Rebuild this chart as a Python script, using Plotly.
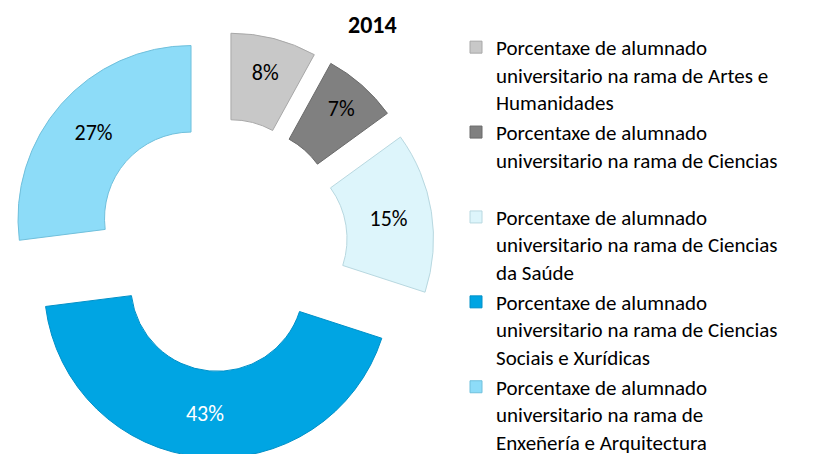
import plotly.graph_objects as go

categories = [
    "Porcentaxe de alumnado<br>universitario na rama de Artes e<br>Humanidades",
    "Porcentaxe de alumnado<br>universitario na rama de Ciencias<br>&nbsp;",
    "Porcentaxe de alumnado<br>universitario na rama de Ciencias<br>da Saúde",
    "Porcentaxe de alumnado<br>universitario na rama de Ciencias<br>Sociais e Xurídicas",
    "Porcentaxe de alumnado<br>universitario na rama de<br>Enxeñería e Arquitectura",
]
values = [8, 7, 15, 43, 27]
colors = ["#C8C8C8", "#808080", "#DDF5FB", "#00A5E3", "#8DDCF8"]
edge_colors = ["#A8A8A8", "#6A6A6A", "#B8D8E0", "#0090C8", "#70C0DC"]
text_colors = ["black", "black", "black", "white", "black"]
title_text = "<b>2014</b>"

W, H = 813, 454
FONT = "Carlito, Lato, sans-serif"
box = 426
cx = box / 2
y0 = 4 / H

fig = go.Figure(go.Pie(
    labels=categories,
    values=values,
    sort=False,
    direction="clockwise",
    rotation=0,
    hole=0.5,
    pull=[0.231] * len(values),
    marker=dict(colors=colors, line=dict(color=edge_colors, width=1)),
    texttemplate="%{percent:.0%}",
    textposition="inside",
    insidetextorientation="horizontal",
    textfont=dict(color=text_colors, size=22, family=FONT),
    domain=dict(x=[(cx - box / 2) / W, (cx + box / 2) / W], y=[y0, y0 + box / H]),
    hoverinfo="label+percent",
))

fig.update_layout(
    width=W, height=H,
    margin=dict(l=0, r=0, t=0, b=0),
    paper_bgcolor="white",
    plot_bgcolor="white",
    showlegend=True,
    uniformtext=dict(minsize=22, mode="show"),
    legend=dict(
        x=448 / W, xanchor="left",
        y=1 - 23 / H, yanchor="top",
        font=dict(size=21, family=FONT, color="black"),
        valign="top",
        itemwidth=30,
        tracegroupgap=0,
    ),
    annotations=[dict(
        text=title_text, x=364 / W, y=1.0, xref="paper", yref="paper",
        xanchor="center", yanchor="top", showarrow=False,
        font=dict(size=24, family=FONT, color="black"),
    )],
)

fig.write_html("out.html")
